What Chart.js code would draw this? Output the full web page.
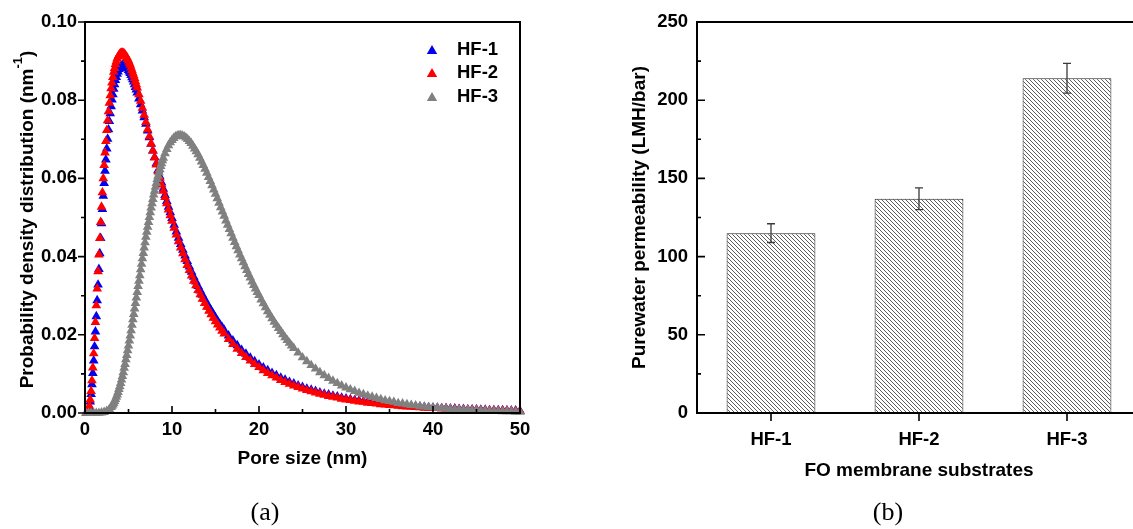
<!DOCTYPE html>
<html>
<head>
<meta charset="utf-8">
<script src="https://cdn.jsdelivr.net/npm/chart.js@4.4.1/dist/chart.umd.min.js"></script>
<style>
  html, body { margin: 0; padding: 0; background: #fff; overflow: hidden; width: 1133px; height: 529px; }
  #cA { position: absolute; left: 0; top: 0; display: block; }
  #wrapB { position: absolute; left: 566px; top: 0; width: 567px; height: 529px; overflow: hidden; }
  #cB { display: block; }
</style>
</head>
<body>
<canvas id="cA" width="566" height="529"></canvas>
<div id="wrapB"><canvas id="cB" width="600" height="529"></canvas></div>
<script>
// ---------- (a) pore size distribution ----------
const seriesNames = ['HF-1', 'HF-2', 'HF-3'];
const seriesColors = ['#0000ee', '#ff0000', '#808080'];

// pore sizes (nm) sampled for HF-1 and HF-2
const poreSizeA = [
  0.2,0.3,0.4,0.5,0.6,0.7,0.8,0.9,1.0,1.1,1.2,1.3,1.4,1.5,1.6,1.7,1.8,1.9,2.0,
  2.1,2.2,2.3,2.4,2.5,2.6,2.7,2.8,2.9,3.0,3.1,3.2,3.3,3.4,3.5,3.6,3.7,3.8,3.9,4.0,
  4.1,4.2,4.3,4.4,4.5,4.6,4.7,4.8,4.9,5.0,5.1,5.2,5.3,5.4,5.5,5.6,5.7,5.8,5.9,6.0,
  6.2,6.4,6.6,6.8,7.0,7.2,7.4,7.6,7.8,8.0,8.2,8.4,8.6,8.8,9.0,9.2,9.4,9.6,9.8,10.0,
  10.25,10.5,10.75,11,11.25,11.5,11.75,12,12.25,12.5,12.75,13,13.25,13.5,13.75,14,14.25,14.5,14.75,15,15.25,15.5,15.75,16,
  16.5,17,17.5,18,18.5,19,19.5,20,20.5,21,21.5,22,22.5,23,23.5,24,24.5,25,25.5,26,26.5,27,27.5,28,28.5,29,29.5,30,
  30.5,31,31.5,32,32.5,33,33.5,34,34.5,35,35.5,36,36.5,37,37.5,38,38.5,39,39.5,40,
  40.5,41,41.5,42,42.5,43,43.5,44,44.5,45,45.5,46,46.5,47,47.5,48,48.5,49,49.5,50
];

const densityHF1 = [
  0.0000,0.0002,0.0006,0.0015,0.0029,0.0048,0.0073,0.0102,0.0134,0.0170,0.0208,0.0247,0.0288,0.0328,0.0368,0.0408,0.0447,0.0485,0.0521,
  0.0555,0.0588,0.0619,0.0648,0.0676,0.0701,0.0725,0.0746,0.0766,0.0784,0.0801,0.0815,0.0829,0.0840,0.0851,0.0859,0.0867,0.0873,0.0879,0.0883,
  0.0886,0.0888,0.0889,0.0890,0.0890,0.0888,0.0887,0.0884,0.0881,0.0877,0.0873,0.0869,0.0864,0.0858,0.0853,0.0847,0.0840,0.0833,0.0827,0.0819,
  0.0804,0.0789,0.0773,0.0756,0.0739,0.0722,0.0705,0.0688,0.0671,0.0654,0.0638,0.0621,0.0605,0.0589,0.0573,0.0557,0.0542,0.0527,0.0513,0.0498,
  0.0481,0.0464,0.0448,0.0432,0.0417,0.0402,0.0388,0.0374,0.0361,0.0348,0.0336,0.0324,0.0313,0.0302,0.0291,0.0281,0.0271,0.0262,0.0253,0.0244,0.0235,0.0227,0.0220,0.0212,
  0.0198,0.0185,0.0173,0.0161,0.0151,0.0141,0.0132,0.0124,0.0116,0.0109,0.0102,0.0096,0.0090,0.0085,0.0079,0.0075,0.0070,0.0066,0.0062,0.0059,0.0056,0.0052,0.0049,0.0047,0.0044,0.0042,0.0039,0.0037,
  0.0035,0.0033,0.0032,0.0030,0.0029,0.0027,0.0026,0.0024,0.0023,0.0022,0.0021,0.0020,0.0019,0.0018,0.0017,0.0016,0.0016,0.0015,0.0014,0.0013,
  0.0013,0.0012,0.0012,0.0011,0.0011,0.0010,0.0010,0.0009,0.0009,0.0009,0.0008,0.0008,0.0007,0.0007,0.0007,0.0007,0.0006,0.0006,0.0006,0.0005
];

const densityHF2 = [
  0.0000,0.0002,0.0007,0.0018,0.0034,0.0056,0.0083,0.0116,0.0152,0.0191,0.0232,0.0275,0.0318,0.0362,0.0405,0.0447,0.0488,0.0527,0.0564,
  0.0600,0.0634,0.0666,0.0695,0.0723,0.0748,0.0771,0.0793,0.0812,0.0830,0.0845,0.0859,0.0872,0.0882,0.0892,0.0899,0.0906,0.0911,0.0915,0.0918,
  0.0920,0.0921,0.0921,0.0920,0.0919,0.0916,0.0913,0.0910,0.0905,0.0901,0.0895,0.0890,0.0883,0.0877,0.0870,0.0863,0.0856,0.0848,0.0840,0.0832,
  0.0815,0.0798,0.0780,0.0762,0.0744,0.0725,0.0707,0.0689,0.0671,0.0653,0.0635,0.0618,0.0601,0.0584,0.0568,0.0552,0.0536,0.0520,0.0505,0.0491,
  0.0473,0.0456,0.0439,0.0423,0.0408,0.0393,0.0378,0.0365,0.0351,0.0338,0.0326,0.0314,0.0303,0.0292,0.0281,0.0271,0.0261,0.0252,0.0243,0.0234,0.0226,0.0218,0.0210,0.0203,
  0.0189,0.0176,0.0164,0.0153,0.0143,0.0134,0.0125,0.0117,0.0109,0.0102,0.0096,0.0090,0.0084,0.0079,0.0074,0.0070,0.0066,0.0062,0.0058,0.0055,0.0052,0.0049,0.0046,0.0043,0.0041,0.0039,0.0036,0.0034,
  0.0033,0.0031,0.0029,0.0028,0.0026,0.0025,0.0024,0.0022,0.0021,0.0020,0.0019,0.0018,0.0017,0.0016,0.0016,0.0015,0.0014,0.0013,0.0013,0.0012,
  0.0012,0.0011,0.0011,0.0010,0.0010,0.0009,0.0009,0.0008,0.0008,0.0008,0.0007,0.0007,0.0007,0.0006,0.0006,0.0006,0.0006,0.0005,0.0005,0.0005
];

// pore sizes (nm) sampled for HF-3
const poreSizeB = [
  0.1,0.4,0.7,1.0,1.3,1.6,1.9,2.2,2.5,2.8,
  3.0,3.1,3.2,3.3,3.4,3.5,3.6,3.7,3.8,3.9,4.0,
  4.1,4.2,4.3,4.4,4.5,4.6,4.7,4.8,4.9,5.0,
  5.1,5.2,5.3,5.4,5.5,5.6,5.7,5.8,5.9,6.0,
  6.1,6.2,6.3,6.4,6.5,6.6,6.7,6.8,6.9,7.0,
  7.1,7.2,7.3,7.4,7.5,7.6,7.7,7.8,7.9,8.0,
  8.1,8.2,8.3,8.4,8.5,8.6,8.7,8.8,8.9,9.0,
  9.2,9.4,9.6,9.8,10.0,10.2,10.4,10.6,10.8,11.0,11.2,11.4,11.6,11.8,12.0,12.2,12.4,12.6,12.8,13.0,
  13.2,13.4,13.6,13.8,14.0,14.2,14.4,14.6,14.8,15.0,15.2,15.4,15.6,15.8,16.0,16.2,16.4,16.6,16.8,17.0,
  17.2,17.4,17.6,17.8,18.0,18.2,18.4,18.6,18.8,19.0,19.2,19.4,19.6,19.8,20.0,
  20.25,20.5,20.75,21,21.25,21.5,21.75,22,22.25,22.5,22.75,23,23.25,23.5,23.75,24,
  24.5,25,25.5,26,26.5,27,27.5,28,28.5,29,29.5,30,
  30.5,31,31.5,32,32.5,33,33.5,34,34.5,35,35.5,36,36.5,37,37.5,38,38.5,39,39.5,40,
  40.5,41,41.5,42,42.5,43,43.5,44,44.5,45,45.5,46,46.5,47,47.5,48,48.5,49,49.5,50
];

const densityHF3 = [
  0,0,0,0,0,0,0.0001,0.0002,0.0005,0.0010,
  0.0015,0.0018,0.0021,0.0025,0.0030,0.0035,0.0041,0.0047,0.0053,0.0061,0.0068,
  0.0076,0.0085,0.0094,0.0104,0.0115,0.0125,0.0137,0.0148,0.0160,0.0172,
  0.0185,0.0198,0.0211,0.0225,0.0239,0.0253,0.0267,0.0281,0.0295,0.0309,
  0.0324,0.0338,0.0352,0.0367,0.0381,0.0395,0.0409,0.0423,0.0436,0.0450,
  0.0463,0.0476,0.0488,0.0501,0.0513,0.0525,0.0536,0.0547,0.0558,0.0568,
  0.0578,0.0588,0.0598,0.0606,0.0615,0.0623,0.0631,0.0638,0.0646,0.0652,
  0.0664,0.0675,0.0684,0.0692,0.0698,0.0703,0.0707,0.0709,0.0710,0.0710,0.0709,0.0707,0.0704,0.0700,0.0695,0.0690,0.0683,0.0676,0.0669,0.0661,
  0.0652,0.0643,0.0634,0.0624,0.0614,0.0603,0.0593,0.0582,0.0571,0.0560,0.0549,0.0537,0.0526,0.0515,0.0504,0.0492,0.0481,0.0470,0.0459,0.0448,
  0.0437,0.0426,0.0416,0.0405,0.0395,0.0385,0.0375,0.0365,0.0355,0.0346,0.0336,0.0327,0.0318,0.0309,0.0301,
  0.0290,0.0280,0.0270,0.0260,0.0251,0.0242,0.0233,0.0225,0.0217,0.0209,0.0201,0.0193,0.0186,0.0179,0.0172,0.0166,
  0.0154,0.0142,0.0132,0.0122,0.0113,0.0104,0.0096,0.0089,0.0082,0.0076,0.0070,0.0065,
  0.0060,0.0056,0.0051,0.0048,0.0044,0.0041,0.0038,0.0035,0.0032,0.0030,0.0028,0.0025,0.0024,0.0022,0.0020,0.0019,0.0017,0.0016,0.0015,0.0014,
  0.0013,0.0012,0.0011,0.0010,0.0009,0.0009,0.0008,0.0008,0.0007,0.0007,0.0006,0.0006,0.0005,0.0005,0.0005,0.0004,0.0004,0.0004,0.0003,0.0003
];

// ---------- (b) pure water permeability ----------
const substrates = ['HF-1', 'HF-2', 'HF-3'];
const permeability = [115, 137, 214];      // LMH/bar
const permeabilityErr = [6, 7, 9.5];       // ± LMH/bar

// ---------- shared styling ----------
const SANS = '"Liberation Sans", Arial, Helvetica, sans-serif';
const SERIF = '"Liberation Serif", "Times New Roman", serif';
Chart.defaults.font.family = SANS;
Chart.defaults.font.weight = 'bold';
Chart.defaults.font.size = 18.5;
Chart.defaults.color = '#000';

const toPoints = (xs, ys) => xs.map((x, i) => ({ x: x, y: ys[i] }));

function triangle(ctx, x, y, r, color) {
  ctx.beginPath();
  for (let k = 0; k < 3; k++) {
    const a = k * 2 * Math.PI / 3;
    const px = x + Math.sin(a) * r, py = y - Math.cos(a) * r;
    if (k === 0) ctx.moveTo(px, py); else ctx.lineTo(px, py);
  }
  ctx.closePath();
  ctx.fillStyle = color;
  ctx.fill();
}

// tick marks at library tick values plus one minor tick between neighbours
function tickMarks(ctx, scale, ticks, drawMark, majorLen, minorLen, withMinor) {
  const vals = ticks.map(t => t.value);
  vals.forEach((v, i) => {
    drawMark(scale.getPixelForValue(v), majorLen);
    if (withMinor && i < vals.length - 1) {
      drawMark(scale.getPixelForValue((v + vals[i + 1]) / 2), minorLen);
    }
  });
}

// ---------- chart (a) ----------
const poreDecor = {
  id: 'poreDecor',
  afterDatasetsDraw(chart) {
    const { ctx, chartArea: a, scales: { x, y } } = chart;
    ctx.save();
    ctx.strokeStyle = '#000';
    ctx.lineWidth = 1.6;
    ctx.beginPath();
    // x ticks point into the plot, y ticks point outwards
    tickMarks(ctx, x, x.ticks, (px, len) => { ctx.moveTo(px, a.bottom); ctx.lineTo(px, a.bottom - len); }, 7, 4, true);
    tickMarks(ctx, y, y.ticks, (py, len) => { ctx.moveTo(a.left, py); ctx.lineTo(a.left - len, py); }, 7, 4, true);
    ctx.stroke();
    ctx.lineWidth = 2;
    ctx.strokeRect(a.left, a.top, a.right - a.left, a.bottom - a.top);

    // legend
    ctx.font = 'bold 18.5px ' + SANS;
    ctx.textAlign = 'left';
    ctx.textBaseline = 'middle';
    const legendY = [50, 73, 97];
    chart.data.datasets.forEach((ds, i) => {
      triangle(ctx, 432, legendY[i] + 1, 6, ds.backgroundColor);
      ctx.fillStyle = '#000';
      ctx.fillText(ds.label, 457, legendY[i]);
    });

    // axis titles
    ctx.fillStyle = '#000';
    ctx.textAlign = 'center';
    ctx.textBaseline = 'alphabetic';
    ctx.font = 'bold 19px ' + SANS;
    ctx.fillText('Pore size (nm)', (a.left + a.right) / 2, 464);

    ctx.save();
    ctx.translate(33, (a.top + a.bottom) / 2 + 2);
    ctx.rotate(-Math.PI / 2);
    const main = 'Probability density distribution (nm';
    const sup = '-1';
    const tail = ')';
    ctx.font = 'bold 19px ' + SANS;
    const w1 = ctx.measureText(main).width, w3 = ctx.measureText(tail).width;
    ctx.font = 'bold 13px ' + SANS;
    const w2 = ctx.measureText(sup).width;
    let sx = -(w1 + w2 + w3) / 2;
    ctx.textAlign = 'left';
    ctx.font = 'bold 19px ' + SANS;
    ctx.fillText(main, sx, 0);
    ctx.font = 'bold 13px ' + SANS;
    ctx.fillText(sup, sx + w1, -11);
    ctx.font = 'bold 19px ' + SANS;
    ctx.fillText(tail, sx + w1 + w2, 0);
    ctx.restore();

    ctx.font = '26px ' + SERIF;
    ctx.textAlign = 'center';
    ctx.textBaseline = 'middle';
    ctx.fillStyle = '#000';
    ctx.fillText('(a)', 265, 513);
    ctx.restore();
  }
};

const pointStyle = (color, order) => ({
  pointStyle: 'triangle', pointRadius: 5.6, pointBorderWidth: 0,
  backgroundColor: color, borderColor: color, showLine: false, order: order, clip: false
});

new Chart(document.getElementById('cA'), {
  type: 'scatter',
  data: {
    datasets: [
      Object.assign({ label: seriesNames[0], data: toPoints(poreSizeA, densityHF1) }, pointStyle(seriesColors[0], 3)),
      Object.assign({ label: seriesNames[1], data: toPoints(poreSizeA, densityHF2) }, pointStyle(seriesColors[1], 2)),
      Object.assign({ label: seriesNames[2], data: toPoints(poreSizeB, densityHF3) }, pointStyle(seriesColors[2], 1))
    ]
  },
  options: {
    responsive: false,
    animation: false,
    events: [],
    layout: { padding: { top: 22, right: 46, left: 0, bottom: 0 } },
    plugins: { legend: { display: false }, tooltip: { enabled: false } },
    scales: {
      x: {
        type: 'linear', min: 0, max: 50,
        afterFit(s) { s.height = 116; },
        grid: { display: false, drawTicks: false },
        border: { display: false },
        ticks: { stepSize: 10, padding: 6, maxRotation: 0, autoSkip: false }
      },
      y: {
        type: 'linear', min: 0, max: 0.1,
        afterFit(s) { s.width = 85; },
        grid: { display: false, drawTicks: false },
        border: { display: false },
        ticks: { stepSize: 0.02, padding: 8, callback: v => Number(v).toFixed(2) }
      }
    }
  },
  plugins: [poreDecor]
});

// ---------- chart (b) ----------
function hatchPattern() {
  const s = 4;
  const c = document.createElement('canvas');
  c.width = s; c.height = s;
  const g = c.getContext('2d');
  g.fillStyle = '#fff';
  g.fillRect(0, 0, s, s);
  g.strokeStyle = '#4a4a4a';
  g.lineWidth = 0.9;
  g.beginPath();
  g.moveTo(0, 0); g.lineTo(s, s);
  g.moveTo(-1, s - 1); g.lineTo(1, s + 1);
  g.moveTo(s - 1, -1); g.lineTo(s + 1, 1);
  g.stroke();
  return g.createPattern(c, 'repeat');
}

const permDecor = {
  id: 'permDecor',
  afterDatasetsDraw(chart) {
    const { ctx, chartArea: a, scales: { x, y } } = chart;
    const meta = chart.getDatasetMeta(0);
    ctx.save();
    // error bars
    ctx.strokeStyle = '#3a3a3a';
    ctx.lineWidth = 1.3;
    ctx.beginPath();
    permeability.forEach((v, i) => {
      const bx = meta.data[i].x;
      const yt = y.getPixelForValue(v + permeabilityErr[i]);
      const yb = y.getPixelForValue(v - permeabilityErr[i]);
      ctx.moveTo(bx, yt); ctx.lineTo(bx, yb);
      ctx.moveTo(bx - 4, yt); ctx.lineTo(bx + 4, yt);
      ctx.moveTo(bx - 4, yb); ctx.lineTo(bx + 4, yb);
    });
    ctx.stroke();

    // ticks: y into the plot, x outwards
    ctx.strokeStyle = '#000';
    ctx.lineWidth = 1.6;
    ctx.beginPath();
    tickMarks(ctx, y, y.ticks, (py, len) => { ctx.moveTo(a.left, py); ctx.lineTo(a.left + len, py); }, 8, 4, true);
    substrates.forEach((_, i) => {
      const px = x.getPixelForValue(i);
      ctx.moveTo(px, a.bottom); ctx.lineTo(px, a.bottom + 8);
    });
    ctx.stroke();

    // frame: left, top and bottom axes; the plot continues past the right edge
    ctx.lineWidth = 2;
    ctx.beginPath();
    ctx.moveTo(chart.width + 10, a.top);
    ctx.lineTo(a.left, a.top);
    ctx.lineTo(a.left, a.bottom);
    ctx.lineTo(chart.width + 10, a.bottom);
    ctx.stroke();

    // axis titles
    ctx.fillStyle = '#000';
    ctx.font = 'bold 19px ' + SANS;
    ctx.textAlign = 'center';
    ctx.textBaseline = 'alphabetic';
    ctx.fillText('FO membrane substrates', (a.left + a.right) / 2, 476);
    ctx.save();
    ctx.translate(645 - 566, (a.top + a.bottom) / 2);
    ctx.rotate(-Math.PI / 2);
    ctx.fillText('Purewater permeability (LMH/bar)', 0, 0);
    ctx.restore();

    ctx.font = '26px ' + SERIF;
    ctx.textBaseline = 'middle';
    ctx.fillText('(b)', 888 - 566, 513);
    ctx.restore();
  }
};

new Chart(document.getElementById('cB'), {
  type: 'bar',
  data: {
    labels: substrates,
    datasets: [{
      data: permeability,
      backgroundColor: hatchPattern(),
      borderColor: '#222',
      borderWidth: 1,
      barPercentage: 0.6,
      categoryPercentage: 1
    }]
  },
  options: {
    responsive: false,
    animation: false,
    events: [],
    layout: { padding: { top: 22, right: 25, left: 0, bottom: 0 } },
    plugins: { legend: { display: false }, tooltip: { enabled: false } },
    scales: {
      x: {
        afterFit(s) { s.height = 116; },
        grid: { display: false, drawTicks: false },
        border: { display: false },
        ticks: { padding: 16, maxRotation: 0, autoSkip: false }
      },
      y: {
        min: 0, max: 250,
        afterFit(s) { s.width = 131; },
        grid: { display: false, drawTicks: false },
        border: { display: false },
        ticks: { stepSize: 50, padding: 9 }
      }
    }
  },
  plugins: [permDecor]
});
</script>
</body>
</html>
